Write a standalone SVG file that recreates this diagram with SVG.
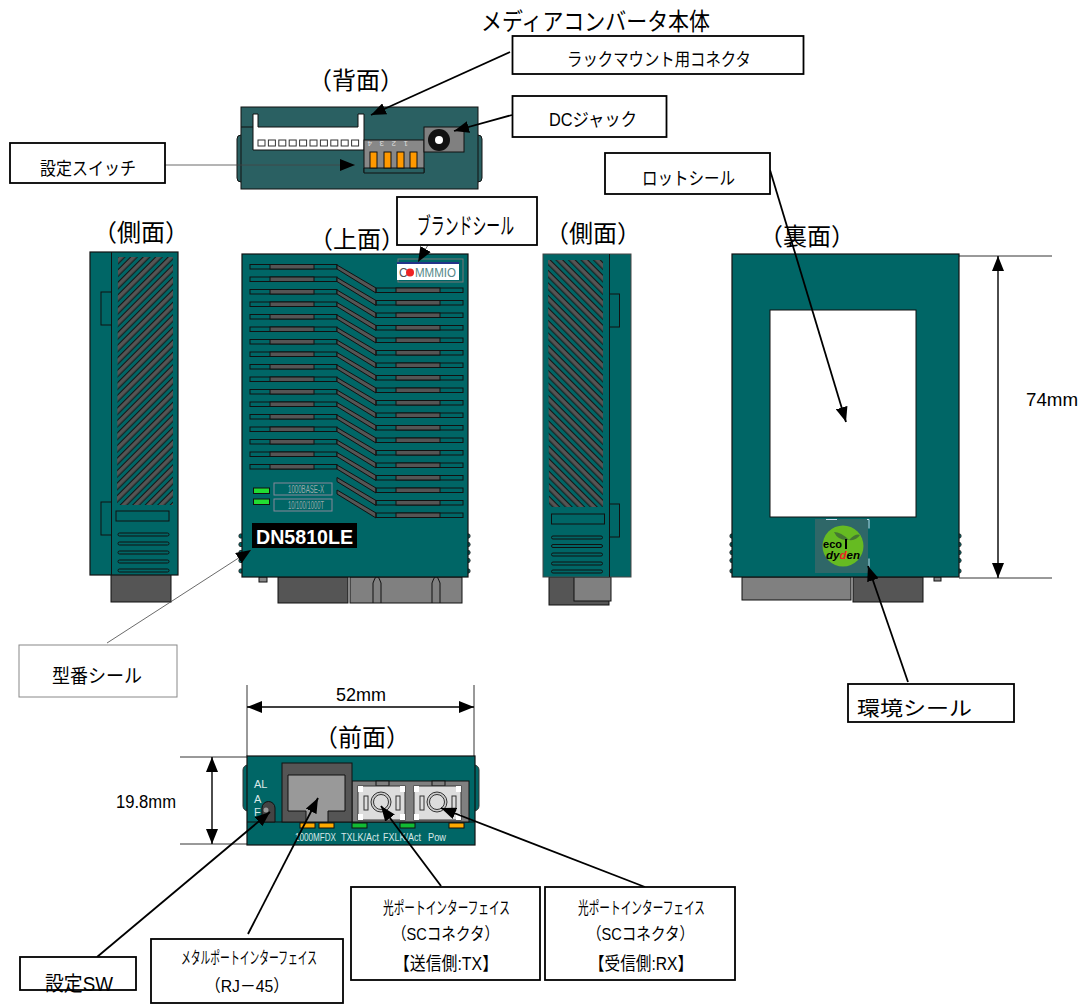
<svg xmlns="http://www.w3.org/2000/svg" xmlns:xlink="http://www.w3.org/1999/xlink" width="1080" height="1005" viewBox="0 0 1080 1005">
<style>
text{font-family:"Liberation Sans","Noto Sans CJK JP",sans-serif;fill:#000}
.box{fill:#fff;stroke:#000;stroke-width:1.8}
.lb{font-size:18px}
.tt{font-size:24px}
.body{fill:#006666;stroke:#111;stroke-width:1.2}
.dk{fill:#555;stroke:#111;stroke-width:1}
.lt{fill:#808080;stroke:#111;stroke-width:1}
.ol{fill:none;stroke:#111;stroke-width:1}
.cn{fill:none;stroke:#000;stroke-width:1.8}
.th{fill:none;stroke:#444;stroke-width:.8}
.ar{marker-end:url(#a)}
.dm{fill:none;stroke:#000;stroke-width:1.4;marker-start:url(#b);marker-end:url(#a)}
.ln{fill:none;stroke:#000;stroke-width:.8}
.bp{fill:#006666;stroke:#222;stroke-width:.8}
.tl{fill:#d8e8e8;font-size:11px}
</style>
<defs>
<marker id="a" markerWidth="16" markerHeight="12" refX="15" refY="6" orient="auto" markerUnits="userSpaceOnUse"><path d="M0 0L15 6L0 12z" fill="#000"/></marker>
<marker id="b" markerWidth="16" markerHeight="12" refX="1" refY="6" orient="auto" markerUnits="userSpaceOnUse"><path d="M16 0L1 6L16 12z" fill="#000"/></marker>
<pattern id="hl" patternUnits="userSpaceOnUse" width="8.84" height="8.84" patternTransform="rotate(-45 117 257)"><rect width="8.84" height="8.84" fill="#006666"/><rect x="-1" y="1.500" width="11" height="4.600" fill="#555" stroke="#111"/></pattern>
<pattern id="hr" patternUnits="userSpaceOnUse" width="8.84" height="8.84" patternTransform="rotate(45 548 258)"><rect width="8.84" height="8.84" fill="#006666"/><rect x="-1" y="1.500" width="11" height="4.600" fill="#555" stroke="#111"/></pattern>
<g id="dr"><path class="dk" d="M337 265L376 288V293L337 269z"/><rect class="ol" x="376" y="288" width="87" height="4.5"/><rect class="dk" x="396" y="288" width="44" height="4.5"/></g>
<g id="lr"><rect class="ol" x="250" y="264.5" width="87" height="4.5"/><rect class="dk" x="270" y="264.5" width="44" height="4.5"/><use href="#dr"/></g>
<g id="bl"><circle class="bp" cx="0" cy="0" r="2.2"/><circle class="bp" cx="0" cy="8.5" r="2.2"/><circle class="bp" cx="0" cy="16.5" r="2.2"/><circle class="bp" cx="0" cy="24.5" r="2.2"/><circle class="bp" cx="0" cy="35" r="2.2"/></g>
<g id="sc"><rect x="0" y="0" width="47" height="34" fill="#ddd" stroke="#333"/><rect x="0" y="0" width="5" height="6" fill="#fff"/><rect x="42" y="0" width="5" height="6" fill="#fff"/><rect x="0" y="28" width="5" height="6" fill="#fff"/><rect x="42" y="28" width="5" height="6" fill="#fff"/><rect x="6" y="10" width="4" height="14" fill="none" stroke="#333"/><rect x="38" y="10" width="4" height="14" fill="none" stroke="#333"/><circle cx="23" cy="16" r="10" fill="#ccc" stroke="#333"/><circle cx="23" cy="16" r="7.5" fill="#ddd" stroke="#333"/></g>
</defs>

<text class="tt" x="481" y="30" textLength="229" lengthAdjust="spacingAndGlyphs">メディアコンバータ本体</text>
<text class="tt" x="308" y="89" textLength="96" lengthAdjust="spacingAndGlyphs">（背面）</text>
<text class="tt" x="93" y="241" textLength="96" lengthAdjust="spacingAndGlyphs">（側面）</text>
<text class="tt" x="309" y="248" textLength="96" lengthAdjust="spacingAndGlyphs">（上面）</text>
<text class="tt" x="545" y="242" textLength="96" lengthAdjust="spacingAndGlyphs">（側面）</text>
<text class="tt" x="759" y="245" textLength="96" lengthAdjust="spacingAndGlyphs">（裏面）</text>
<text class="tt" x="314" y="746" textLength="96" lengthAdjust="spacingAndGlyphs">（前面）</text>

<g id="rear">
<rect x="237" y="135" width="245" height="47" rx="4" fill="#2a6062" stroke="#111"/>
<rect x="241" y="107" width="237" height="82" fill="#2a6062" stroke="#111"/>
<path d="M241 127H253" class="ol"/>
<path d="M253 114H258V127H358V114H364V150H253z" fill="#fff" stroke="#111"/>
<g fill="#fff" stroke="#333"><rect x="258" y="140" width="7" height="6"/><rect x="268.400" y="140" width="7" height="6"/><rect x="278.800" y="140" width="7" height="6"/><rect x="289.200" y="140" width="7" height="6"/><rect x="299.600" y="140" width="7" height="6"/><rect x="310" y="140" width="7" height="6"/><rect x="320.400" y="140" width="7" height="6"/><rect x="330.800" y="140" width="7" height="6"/><rect x="341.200" y="140" width="7" height="6"/><rect x="351.600" y="140" width="7" height="6"/></g>
<rect x="364" y="140" width="60" height="32" fill="#888" stroke="#111"/>
<path d="M364 168H424V173H364z" fill="#2a6062" stroke="#111"/>
<g fill="#ff9900" stroke="#111"><rect x="370" y="152" width="7" height="16"/><rect x="384" y="152" width="7" height="16"/><rect x="397" y="152" width="7" height="16"/><rect x="410" y="152" width="7" height="16"/></g>
<g font-size="8"><text x="378" y="147" transform="rotate(180 375 144)" style="fill:#ddd">4</text><text x="390" y="147" transform="rotate(180 387 144)" style="fill:#ddd">3</text><text x="402" y="147" transform="rotate(180 399 144)" style="fill:#ddd">2</text><text x="414" y="147" transform="rotate(180 411 144)" style="fill:#ddd">1</text></g>
<rect x="424" y="127" width="40" height="25" fill="#808080" stroke="#111"/>
<circle cx="439" cy="140" r="11" fill="#111"/><circle cx="439" cy="140" r="4" fill="#fff"/>
</g>

<g id="side-left">
<rect class="lt" x="111" y="574" width="60" height="28" style="fill:#555"/>
<rect class="body" x="90" y="252" width="88" height="323"/>
<path class="ol" d="M111.500 252V575"/>
<rect class="ol" x="101" y="292" width="10.500" height="33"/><rect class="ol" x="101" y="502" width="10.500" height="33"/>
<path d="M118 257H173V505H117z" fill="url(#hl)"/>
<rect class="ol" x="116" y="511" width="53" height="10"/>
<g class="ol"><rect x="118" y="533" width="51" height="3" rx="1.500"/><rect x="118" y="542" width="51" height="3" rx="1.500"/><rect x="118" y="551" width="51" height="3" rx="1.500"/><rect x="118" y="560" width="51" height="3" rx="1.500"/><rect x="118" y="569" width="51" height="3" rx="1.500"/></g>
</g>

<g id="top">
<use href="#bl" x="241" y="536"/><use href="#bl" x="468" y="536"/>
<rect class="dk" x="259" y="577" width="8" height="5" style="fill:#888"/>
<rect class="dk" x="278" y="577" width="70" height="26"/>
<rect class="lt" x="350" y="577" width="112" height="26"/>
<path class="ol" d="M373 603V583Q377 570 381 583V603M432 603V583Q436 570 440 583V603"/>
<rect class="body" x="242" y="254" width="226" height="323"/>
<rect x="398" y="259" width="65" height="23" fill="none" stroke="#777"/>
<rect x="397" y="263" width="62" height="17" fill="#fff"/><rect x="397" y="262" width="62" height="2" fill="#223388"/>
<text x="399" y="277" font-size="12" style="fill:#555">C</text><text x="415" y="277" font-size="12" textLength="41" lengthAdjust="spacingAndGlyphs" style="fill:#558888">MMMIO</text><circle cx="410" cy="272.500" r="4" fill="#ee2222"/>
<use href="#lr"/><use href="#lr" y="12.5"/><use href="#lr" y="25"/><use href="#lr" y="37.5"/><use href="#lr" y="50"/><use href="#lr" y="62.5"/><use href="#lr" y="75"/><use href="#lr" y="87.5"/><use href="#lr" y="100"/><use href="#lr" y="112.5"/><use href="#lr" y="125"/><use href="#lr" y="137.5"/><use href="#lr" y="150"/><use href="#lr" y="162.5"/><use href="#lr" y="175"/><use href="#lr" y="187.5"/><use href="#lr" y="200"/><use href="#dr" y="212.5"/><use href="#dr" y="225"/>
<rect x="253.500" y="488" width="16" height="5.500" fill="#22dd33" stroke="#111"/><rect x="253.500" y="499" width="16" height="5.500" fill="#22dd33" stroke="#111"/>
<rect x="274" y="483" width="58" height="12" fill="none" stroke="#889"/><rect x="274" y="499" width="58" height="12" fill="none" stroke="#889"/>
<text x="288" y="493" font-size="10" textLength="36" lengthAdjust="spacingAndGlyphs" style="fill:#99aaaa">1000BASE-X</text>
<text x="288" y="509" font-size="10" textLength="36" lengthAdjust="spacingAndGlyphs" style="fill:#99aaaa">10/100/1000T</text>
<rect x="252" y="523" width="105" height="25" fill="#000"/>
<text x="256" y="544" font-size="21" font-weight="700" textLength="97" lengthAdjust="spacingAndGlyphs" style="fill:#fff">DN5810LE</text>
</g>

<g id="side-right">
<rect class="dk" x="549" y="577" width="60" height="28"/>
<rect class="lt" x="574" y="577" width="37" height="24"/>
<rect x="543" y="254" width="88" height="323" fill="#006666" stroke="#444"/>
<path class="ol" d="M609.500 254V577"/>
<rect class="ol" x="609.500" y="294" width="10" height="33"/><rect class="ol" x="609.500" y="504" width="10" height="33"/>
<path d="M548 260H603V507H549z" fill="url(#hr)"/>
<rect class="ol" x="551.500" y="514" width="53" height="10"/>
<g class="ol"><rect x="551.500" y="536" width="51" height="3" rx="1.500"/><rect x="551.500" y="544.500" width="51" height="3" rx="1.500"/><rect x="551.500" y="553" width="51" height="3" rx="1.500"/><rect x="551.500" y="562" width="51" height="3" rx="1.500"/><rect x="551.500" y="570" width="51" height="3" rx="1.500"/></g>
</g>

<g id="back">
<use href="#bl" x="732" y="536"/><use href="#bl" x="959" y="536"/>
<rect class="dk" x="934" y="577" width="7" height="4" style="fill:#888"/>
<rect class="lt" x="742" y="577" width="109" height="23"/>
<rect class="dk" x="853" y="577" width="70" height="25"/>
<rect class="body" x="732" y="254" width="227" height="323"/>
<rect x="770" y="310" width="146" height="207" fill="#fff" stroke="#111"/>
<rect x="815" y="519" width="53" height="54" fill="#2f6768"/>
<path d="M826 519.500H869V571" fill="none" stroke="#cde" stroke-dasharray="11 30"/>
<circle cx="843" cy="546" r="20.500" fill="#66bb22"/>
<path d="M834 532Q841 532 849 540Q838 541 834 532zM849 540Q856 533 860 535Q856 541 849 540z" fill="#447733"/>
<text x="823" y="548" font-size="10" font-weight="700" textLength="19" lengthAdjust="spacingAndGlyphs">eco</text><path d="M846 539V549" stroke="#000" stroke-width="2"/>
<text x="826" y="559" font-size="10" font-weight="700" font-style="italic" textLength="34" lengthAdjust="spacingAndGlyphs">dy<tspan style="fill:#e22">d</tspan>en</text>
</g>

<g id="front">
<rect x="243" y="765" width="236" height="46" rx="5" fill="#006666" stroke="#333"/>
<rect class="body" x="247" y="756" width="228" height="89"/>
<path class="ol" d="M247 822H475"/>
<rect class="lt" x="352" y="781" width="117" height="41"/>
<rect class="lt" x="376" y="781" width="13" height="5"/><rect class="lt" x="432" y="781" width="13" height="5"/>
<use href="#sc" x="358" y="786"/><use href="#sc" x="414" y="786"/>
<rect class="dk" x="282" y="763" width="70" height="59"/>
<path d="M288 775H345V811H328V822H306V811H288z" fill="#999" stroke="#111"/>
<path d="M262 822V808A6.500 6.500 0 0 1 275 808V822z" fill="#444" stroke="#111"/>
<circle cx="266" cy="810" r="2.500" fill="#999"/>
<text class="tl" x="254" y="788">AL</text><text class="tl" x="254" y="803">A</text><text class="tl" x="254" y="816">F</text>
<g stroke="#111"><rect x="300" y="823" width="15" height="5" fill="#ffaa00"/><rect x="319" y="823" width="15" height="5" fill="#ffaa00"/><rect x="352" y="823" width="15" height="5" fill="#11bb33"/><rect x="400" y="823" width="15" height="5" fill="#11bb33"/><rect x="449" y="823" width="15" height="5" fill="#ffaa00"/></g>
<text class="tl" x="295" y="841" textLength="41" lengthAdjust="spacingAndGlyphs">1000MFDX</text>
<text class="tl" x="341" y="841" textLength="38" lengthAdjust="spacingAndGlyphs">TXLK/Act</text>
<text class="tl" x="383" y="841" textLength="38" lengthAdjust="spacingAndGlyphs">FXLK/Act</text>
<text class="tl" x="428" y="841" textLength="18" lengthAdjust="spacingAndGlyphs">Pow</text>
</g>

<g id="connectors">
<path class="cn ar" d="M510 52L371 115"/>
<path class="cn ar" d="M512 115L454 131"/>
<path class="th ar" d="M165 165H355"/>
<path class="th ar" d="M428 245L418 262"/>
<path class="cn ar" d="M770 170L846 422"/>
<path class="th ar" d="M107 643L251 550"/>
<path class="cn ar" d="M908 682L868 566"/>
<path class="cn ar" d="M97 957L270 812"/>
<path class="cn ar" d="M248 934L318 798"/>
<path class="cn ar" d="M441 886L381 806"/>
<path class="cn ar" d="M645 887L441 808"/>
<path class="ln" d="M959 256H1052M959 578H1052M247 685V756M474 685V756M180 757H247M180 844H247"/>
<path class="dm" d="M998 256V578"/>
<path class="dm" d="M247 707H474"/>
<path class="dm" d="M212 757V844"/>
</g>
<text x="1026" y="406" class="lb" textLength="52" lengthAdjust="spacingAndGlyphs">74mm</text>
<text x="336" y="701" class="lb" textLength="50" lengthAdjust="spacingAndGlyphs">52mm</text>
<text x="116" y="808" class="lb" textLength="60" lengthAdjust="spacingAndGlyphs">19.8mm</text>

<g id="n-rack"><rect class="box" x="512.500" y="36" width="291" height="38"/><text class="lb" x="567" y="66" textLength="184" lengthAdjust="spacingAndGlyphs">ラックマウント用コネクタ</text></g>
<g id="n-dc"><rect class="box" x="512.500" y="96" width="154" height="41"/><text class="lb" x="549" y="126" textLength="88" lengthAdjust="spacingAndGlyphs">DCジャック</text></g>
<g id="n-sw"><rect class="box" x="10" y="143" width="155" height="40"/><text class="lb" x="40" y="175" textLength="96" lengthAdjust="spacingAndGlyphs">設定スイッチ</text></g>
<g id="n-lot"><rect class="box" x="605" y="153" width="165" height="41"/><text class="lb" x="642" y="185" textLength="93" lengthAdjust="spacingAndGlyphs">ロットシール</text></g>
<g id="n-brand"><rect class="box" x="397" y="197" width="140" height="48"/><text class="lb" x="417" y="234" style="font-size:23px" textLength="97" lengthAdjust="spacingAndGlyphs">ブランドシール</text></g>
<g id="n-model"><rect class="box" x="19" y="645" width="158" height="52" style="stroke:#888;stroke-width:1"/><text class="lb" x="52" y="683" style="font-size:19px" textLength="90" lengthAdjust="spacingAndGlyphs">型番シール</text></g>
<g id="n-env"><rect class="box" x="848" y="684" width="166" height="38"/><text class="lb" x="857" y="716" style="font-size:20px" textLength="115" lengthAdjust="spacingAndGlyphs">環境シール</text></g>
<g id="n-swf"><rect class="box" x="20" y="957" width="116" height="33"/><text class="lb" x="45" y="991" style="font-size:20px" textLength="68" lengthAdjust="spacingAndGlyphs">設定SW</text></g>
<g id="n-metal"><rect class="box" x="151" y="939" width="192" height="64"/><text class="lb" x="181" y="964" style="font-size:17px" textLength="136" lengthAdjust="spacingAndGlyphs">メタルポートインターフェイス</text><text class="lb" x="205" y="992" style="font-size:17px" textLength="84" lengthAdjust="spacingAndGlyphs">（RJ－45）</text></g>
<g id="n-tx"><rect class="box" x="351" y="887" width="189" height="93"/><text class="lb" x="383" y="914" style="font-size:17px" textLength="127" lengthAdjust="spacingAndGlyphs">光ポートインターフェイス</text><text class="lb" x="392" y="940" style="font-size:17px" textLength="107" lengthAdjust="spacingAndGlyphs">（SCコネクタ）</text><text class="lb" x="394" y="970" style="font-size:18px" textLength="104" lengthAdjust="spacingAndGlyphs">【送信側:TX】</text></g>
<g id="n-rx"><rect class="box" x="545" y="887" width="190" height="93"/><text class="lb" x="578" y="914" style="font-size:17px" textLength="127" lengthAdjust="spacingAndGlyphs">光ポートインターフェイス</text><text class="lb" x="587" y="940" style="font-size:17px" textLength="107" lengthAdjust="spacingAndGlyphs">（SCコネクタ）</text><text class="lb" x="589" y="970" style="font-size:18px" textLength="104" lengthAdjust="spacingAndGlyphs">【受信側:RX】</text></g>
</svg>
